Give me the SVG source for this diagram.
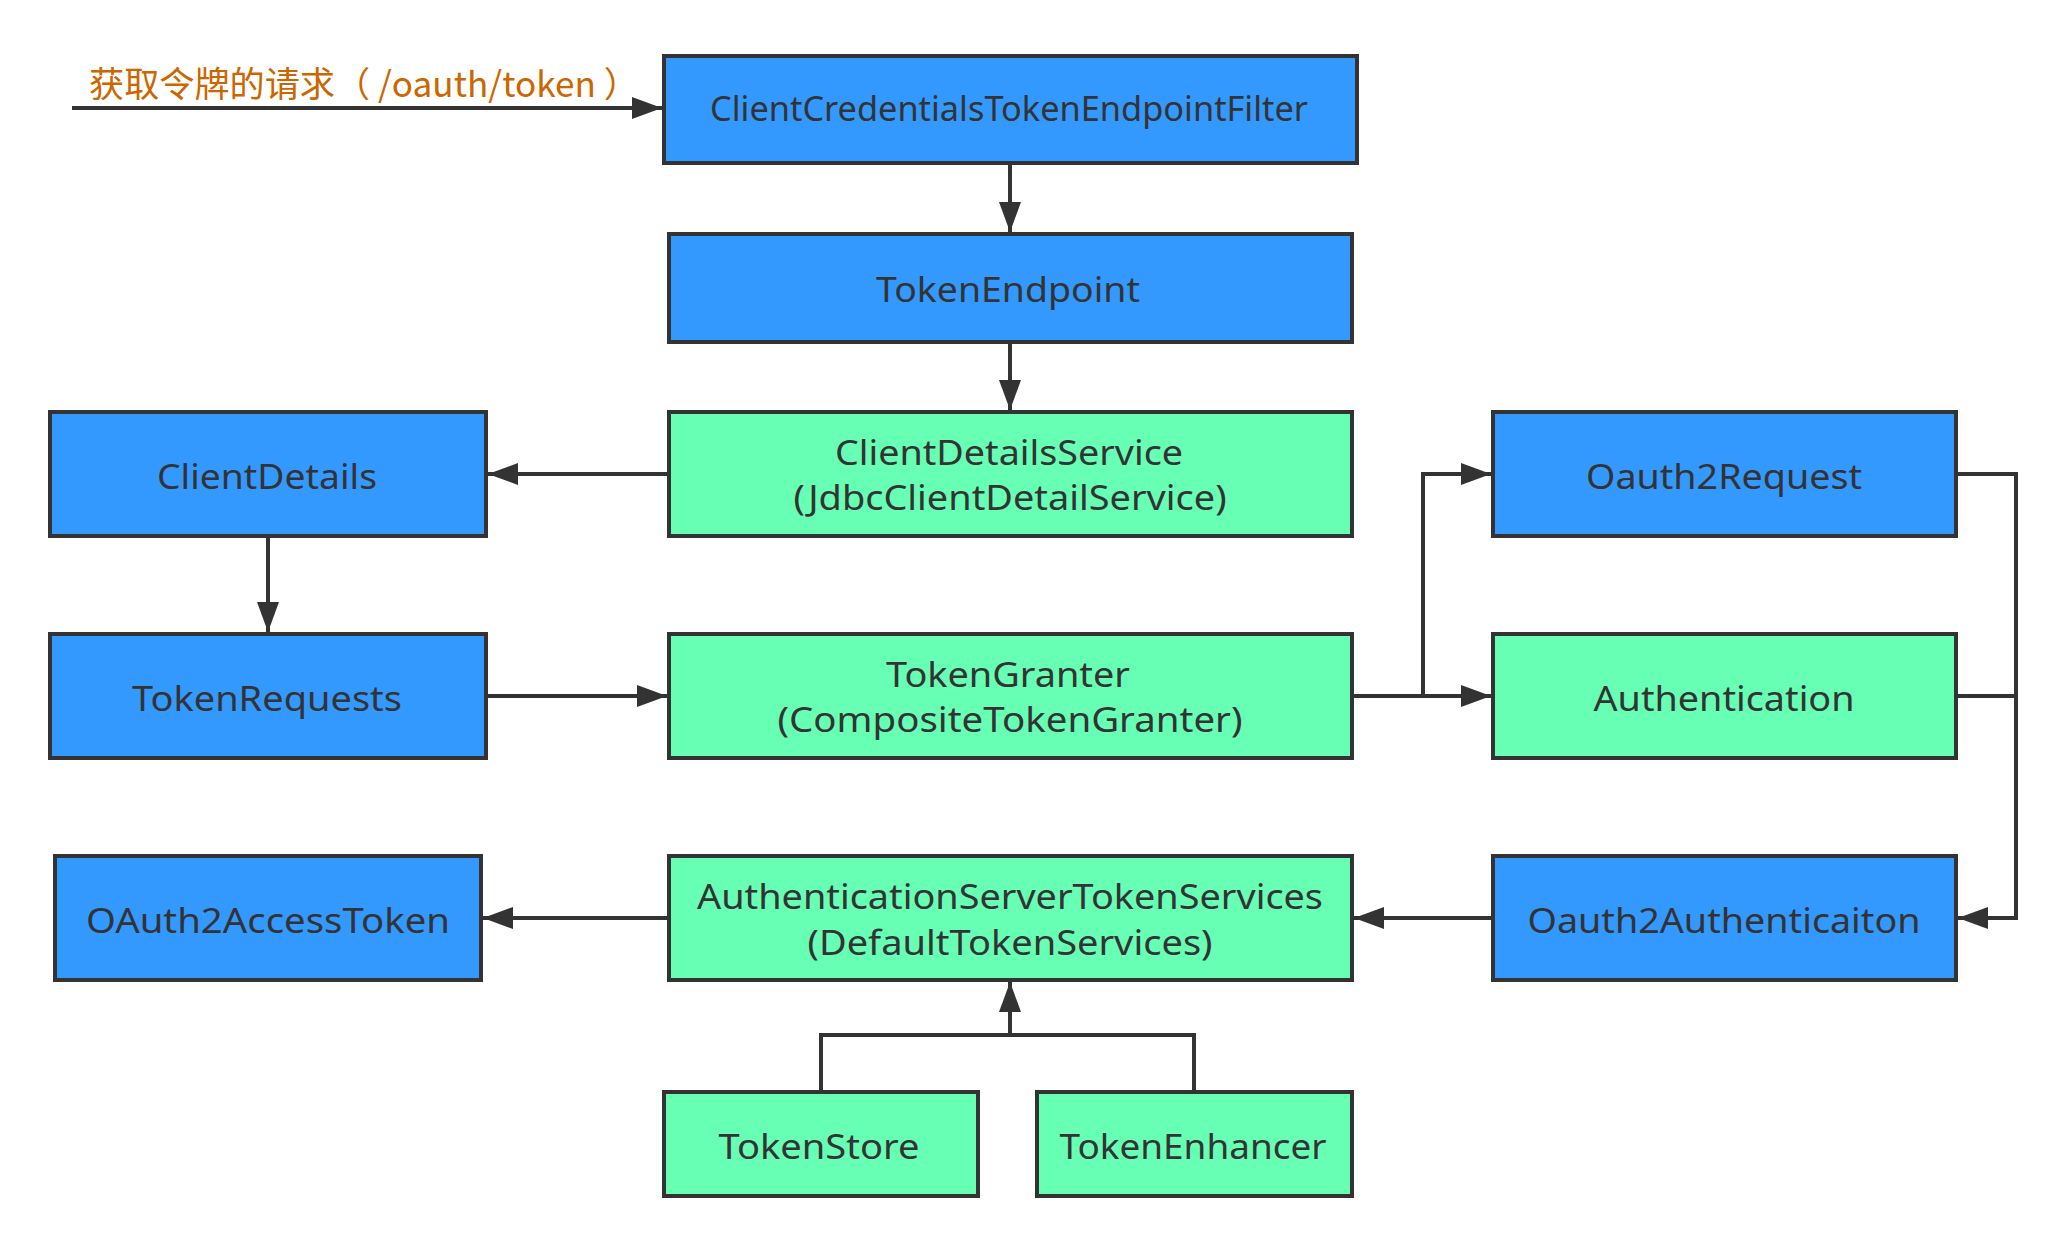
<svg xmlns="http://www.w3.org/2000/svg" width="2066" height="1246" viewBox="0 0 2066 1246">
<style>
.box{stroke:#333333;stroke-width:4}
.blue{fill:#3399ff}
.green{fill:#66ffb3}
.lbl{font-family:"Noto Sans","Noto Sans CJK SC",sans-serif;font-size:34px;fill:#333333;text-anchor:middle}
.cap{font-family:"Noto Sans CJK SC","Noto Sans",sans-serif;font-size:35px;fill:#cc6600}
.edge{fill:none;stroke:#333333;stroke-width:4}
</style>
<defs>
<marker id="arr" markerUnits="userSpaceOnUse" markerWidth="30" markerHeight="22" refX="30" refY="11" orient="auto">
<path d="M0,0 L30,11 L0,22 z" fill="#333333"/>
</marker>
</defs>
<rect width="2066" height="1246" fill="#ffffff"/>
<g id="connectors">
<path class="edge" d="M72,108 L662,108" marker-end="url(#arr)"/>
<path class="edge" d="M1010,163 L1010,232" marker-end="url(#arr)"/>
<path class="edge" d="M1010,342 L1010,410" marker-end="url(#arr)"/>
<path class="edge" d="M669,474 L488,474" marker-end="url(#arr)"/>
<path class="edge" d="M268,536 L268,632" marker-end="url(#arr)"/>
<path class="edge" d="M486,696 L667,696" marker-end="url(#arr)"/>
<path class="edge" d="M1352,696 L1423,696 L1423,474 L1491,474" marker-end="url(#arr)"/>
<path class="edge" d="M1352,696 L1491,696" marker-end="url(#arr)"/>
<path class="edge" d="M1956,474 L2016,474 L2016,918 L1958,918" marker-end="url(#arr)"/>
<path class="edge" d="M1956,696 L2016,696"/>
<path class="edge" d="M1493,918 L1354,918" marker-end="url(#arr)"/>
<path class="edge" d="M669,918 L483,918" marker-end="url(#arr)"/>
<path class="edge" d="M821,1092 L821,1035 L1010,1035 L1010,982" marker-end="url(#arr)"/>
<path class="edge" d="M1194,1092 L1194,1035 L1010,1035"/>
<text class="cap" x="89" y="97" textLength="550" lengthAdjust="spacingAndGlyphs">获取令牌的请求（ /oauth/token ）</text>
</g>
<g id="ClientCredentialsTokenEndpointFilter">
<rect class="box blue" x="664" y="56" width="693" height="107"/>
<text class="lbl" x="1009" y="121" textLength="598" lengthAdjust="spacingAndGlyphs">ClientCredentialsTokenEndpointFilter</text>
</g>
<g id="TokenEndpoint">
<rect class="box blue" x="669" y="234" width="683" height="108"/>
<text class="lbl" x="1008" y="302" textLength="264" lengthAdjust="spacingAndGlyphs">TokenEndpoint</text>
</g>
<g id="ClientDetailsService">
<rect class="box green" x="669" y="412" width="683" height="124"/>
<text class="lbl" x="1009" y="465" textLength="348" lengthAdjust="spacingAndGlyphs">ClientDetailsService</text>
<text class="lbl" x="1010" y="510" textLength="433" lengthAdjust="spacingAndGlyphs">(JdbcClientDetailService)</text>
</g>
<g id="ClientDetails">
<rect class="box blue" x="50" y="412" width="436" height="124"/>
<text class="lbl" x="267" y="489" textLength="220" lengthAdjust="spacingAndGlyphs">ClientDetails</text>
</g>
<g id="Oauth2Request">
<rect class="box blue" x="1493" y="412" width="463" height="124"/>
<text class="lbl" x="1724" y="489" textLength="276" lengthAdjust="spacingAndGlyphs">Oauth2Request</text>
</g>
<g id="TokenRequests">
<rect class="box blue" x="50" y="634" width="436" height="124"/>
<text class="lbl" x="267" y="711" textLength="270" lengthAdjust="spacingAndGlyphs">TokenRequests</text>
</g>
<g id="TokenGranter">
<rect class="box green" x="669" y="634" width="683" height="124"/>
<text class="lbl" x="1008" y="687" textLength="244" lengthAdjust="spacingAndGlyphs">TokenGranter</text>
<text class="lbl" x="1010" y="732" textLength="465" lengthAdjust="spacingAndGlyphs">(CompositeTokenGranter)</text>
</g>
<g id="Authentication">
<rect class="box green" x="1493" y="634" width="463" height="124"/>
<text class="lbl" x="1724" y="711" textLength="261" lengthAdjust="spacingAndGlyphs">Authentication</text>
</g>
<g id="OAuth2AccessToken">
<rect class="box blue" x="55" y="856" width="426" height="124"/>
<text class="lbl" x="268" y="933" textLength="364" lengthAdjust="spacingAndGlyphs">OAuth2AccessToken</text>
</g>
<g id="AuthenticationServerTokenServices">
<rect class="box green" x="669" y="856" width="683" height="124"/>
<text class="lbl" x="1010" y="909" textLength="626" lengthAdjust="spacingAndGlyphs">AuthenticationServerTokenServices</text>
<text class="lbl" x="1010" y="955" textLength="405" lengthAdjust="spacingAndGlyphs">(DefaultTokenServices)</text>
</g>
<g id="Oauth2Authenticaiton">
<rect class="box blue" x="1493" y="856" width="463" height="124"/>
<text class="lbl" x="1724" y="933" textLength="393" lengthAdjust="spacingAndGlyphs">Oauth2Authenticaiton</text>
</g>
<g id="TokenStore">
<rect class="box green" x="664" y="1092" width="314" height="104"/>
<text class="lbl" x="819" y="1159" textLength="201" lengthAdjust="spacingAndGlyphs">TokenStore</text>
</g>
<g id="TokenEnhancer">
<rect class="box green" x="1037" y="1092" width="315" height="104"/>
<text class="lbl" x="1193" y="1159" textLength="267" lengthAdjust="spacingAndGlyphs">TokenEnhancer</text>
</g>
</svg>
